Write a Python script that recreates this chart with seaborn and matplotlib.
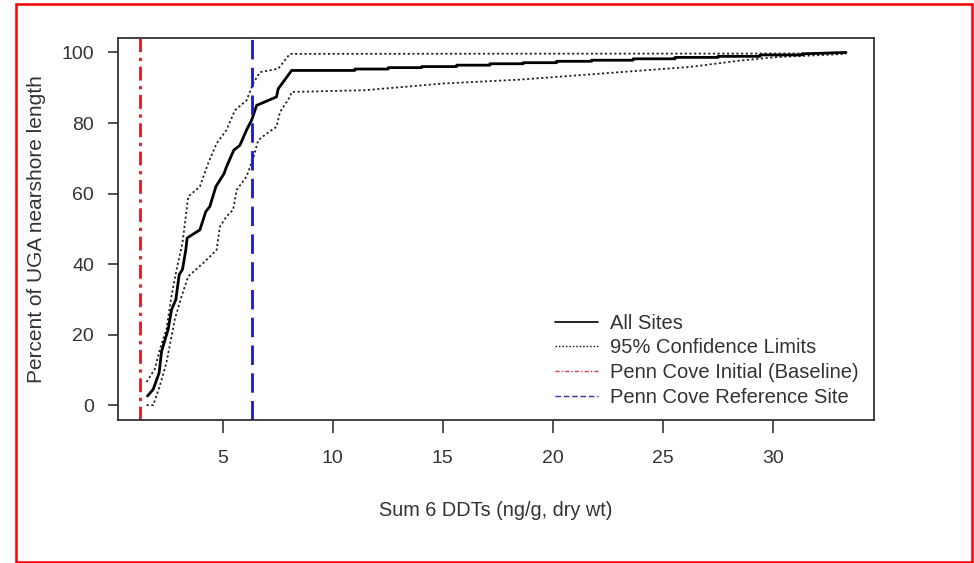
import matplotlib
matplotlib.use("Agg")
import matplotlib.pyplot as plt
from matplotlib.patches import Rectangle
from matplotlib.lines import Line2D
import seaborn as sns
import pandas as pd

# ---- data ----
all_x = [1.59, 1.85, 2.12, 2.23, 2.53, 2.68, 2.88, 3.03, 3.18, 3.33, 3.39, 3.97, 4.24, 4.42,
         4.70, 5.07, 5.18, 5.51, 5.79, 6.09, 6.32, 6.55, 7.45, 7.53, 8.14,
         11.01, 11.01, 12.53, 12.53, 14.05, 14.05, 15.64, 15.64, 17.15, 17.15, 18.66, 18.66,
         20.18, 20.18, 21.77, 21.77, 23.66, 23.66, 25.56, 25.56, 27.51, 27.51, 29.42, 29.42,
         31.32, 31.32, 33.33]
all_y = [2.6, 4.5, 9.2, 15.3, 21.5, 27.0, 30.0, 37.0, 38.5, 44.0, 47.4, 49.7, 54.9, 56.3,
         62.0, 65.7, 67.6, 72.3, 73.7, 78.0, 80.8, 85.0, 87.4, 89.7, 94.9,
         94.9, 95.3, 95.3, 95.7, 95.7, 96.0, 96.0, 96.4, 96.4, 96.8, 96.8, 97.1,
         97.1, 97.5, 97.5, 97.8, 97.8, 98.2, 98.2, 98.6, 98.6, 98.9, 98.9, 99.3,
         99.3, 99.6, 100.0]

upper_x = [1.55, 1.92, 2.15, 2.45, 2.68, 2.91, 3.18, 3.44, 3.97, 4.35, 4.73, 5.18, 5.56,
           6.09, 6.39, 6.70, 7.53, 8.06, 31.5, 33.33]
upper_y = [6.6, 10.2, 15.8, 21.5, 30.9, 38.4, 46.0, 59.1, 62.0, 68.6, 74.2, 78.0, 83.6,
           86.4, 91.2, 94.4, 95.4, 99.6, 99.7, 100.0]

lower_x = [1.55, 1.85, 2.15, 2.45, 2.83, 3.14, 3.44, 4.12, 4.73, 4.88, 5.18, 5.48, 5.64,
           6.09, 6.39, 6.62, 7.00, 7.45, 7.61, 8.06, 8.14, 11.47, 15.03, 18.51, 22.16,
           26.24, 28.51, 30.18, 32.00, 33.33]
lower_y = [0.0, 0.0, 5.5, 12.0, 24.3, 30.9, 36.5, 40.3, 44.0, 50.6, 53.5, 55.4, 61.0,
           64.8, 70.0, 75.1, 77.0, 78.9, 83.1, 87.4, 88.8, 89.3, 91.2, 92.3, 94.0,
           95.9, 97.7, 98.7, 99.2, 99.6]

baseline_x = 1.24
reference_x = 6.36

legend_labels = ["All Sites", "95% Confidence Limits",
                 "Penn Cove Initial (Baseline)", "Penn Cove Reference Site"]
x_ticks = [5, 10, 15, 20, 25, 30]
y_ticks = [0, 20, 40, 60, 80, 100]

# ---- style ----
sns.set_style("white")
plt.rcParams["font.family"] = ["Liberation Sans", "DejaVu Sans"]
plt.rcParams["text.color"] = "#333333"

fig = plt.figure(figsize=(9.74, 5.63), dpi=100)
ax = fig.add_axes([118 / 974, 1 - 420 / 563, (874 - 118) / 974, (420 - 38) / 563])

df_all = pd.DataFrame({"x": all_x, "y": all_y})
df_up = pd.DataFrame({"x": upper_x, "y": upper_y})
df_lo = pd.DataFrame({"x": lower_x, "y": lower_y})

sns.lineplot(data=df_up, x="x", y="y", sort=False, estimator=None, ax=ax,
             color="#222222", lw=1.3, linestyle=(0, (1.2, 1.4)))
sns.lineplot(data=df_lo, x="x", y="y", sort=False, estimator=None, ax=ax,
             color="#222222", lw=1.3, linestyle=(0, (1.2, 1.4)))
sns.lineplot(data=df_all, x="x", y="y", sort=False, estimator=None, ax=ax,
             color="black", lw=2.0)

ax.axvline(baseline_x, color="#e8141e", lw=2.0, linestyle=(0, (5, 2, 1.2, 2)))
ax.axvline(reference_x, color="#1a1acc", lw=2.0, linestyle=(0, (7, 3)))

ax.set_xlim(0.25, 34.6)
ax.set_ylim(-4.2, 104.1)
ax.set_xticks(x_ticks)
ax.set_yticks(y_ticks)
ax.tick_params(axis="x", direction="out", length=9.4, width=1.2, color="#333333",
               labelsize=14, labelcolor="#333333", pad=12, bottom=True)
ax.tick_params(axis="y", direction="out", length=7.2, width=1.2, color="#333333",
               labelsize=14, labelcolor="#333333", pad=10, left=True)
for s in ax.spines.values():
    s.set_color("#333333")
    s.set_linewidth(1.3)

ax.set_xlabel("Sum 6 DDTs (ng/g, dry wt)", fontsize=14.3, color="#333333", labelpad=25)
ax.set_ylabel("Percent of UGA nearshore length", fontsize=15, color="#333333", labelpad=11)

handles = [
    Line2D([], [], color="black", lw=1.2),
    Line2D([], [], color="black", lw=1.0, linestyle=(0, (1, 1.5))),
    Line2D([], [], color="#d04050", lw=1.0, linestyle=(0, (3, 1.5, 1, 1.5))),
    Line2D([], [], color="#3030b0", lw=1.0, linestyle=(0, (4, 2))),
]
ax.legend(handles, legend_labels, loc="lower right", bbox_to_anchor=(0.99, 0.014),
          frameon=False, fontsize=14.5, handlelength=2.1, handletextpad=0.6,
          labelspacing=0.28, borderaxespad=0)

fig.add_artist(Rectangle((15.7 / 974, 1 - 561.7 / 563), (972.3 - 15.7) / 974,
                         (561.7 - 4) / 563, transform=fig.transFigure, fill=False,
                         edgecolor="red", lw=1.8))

fig.savefig("out.png", dpi=100, facecolor="white")
